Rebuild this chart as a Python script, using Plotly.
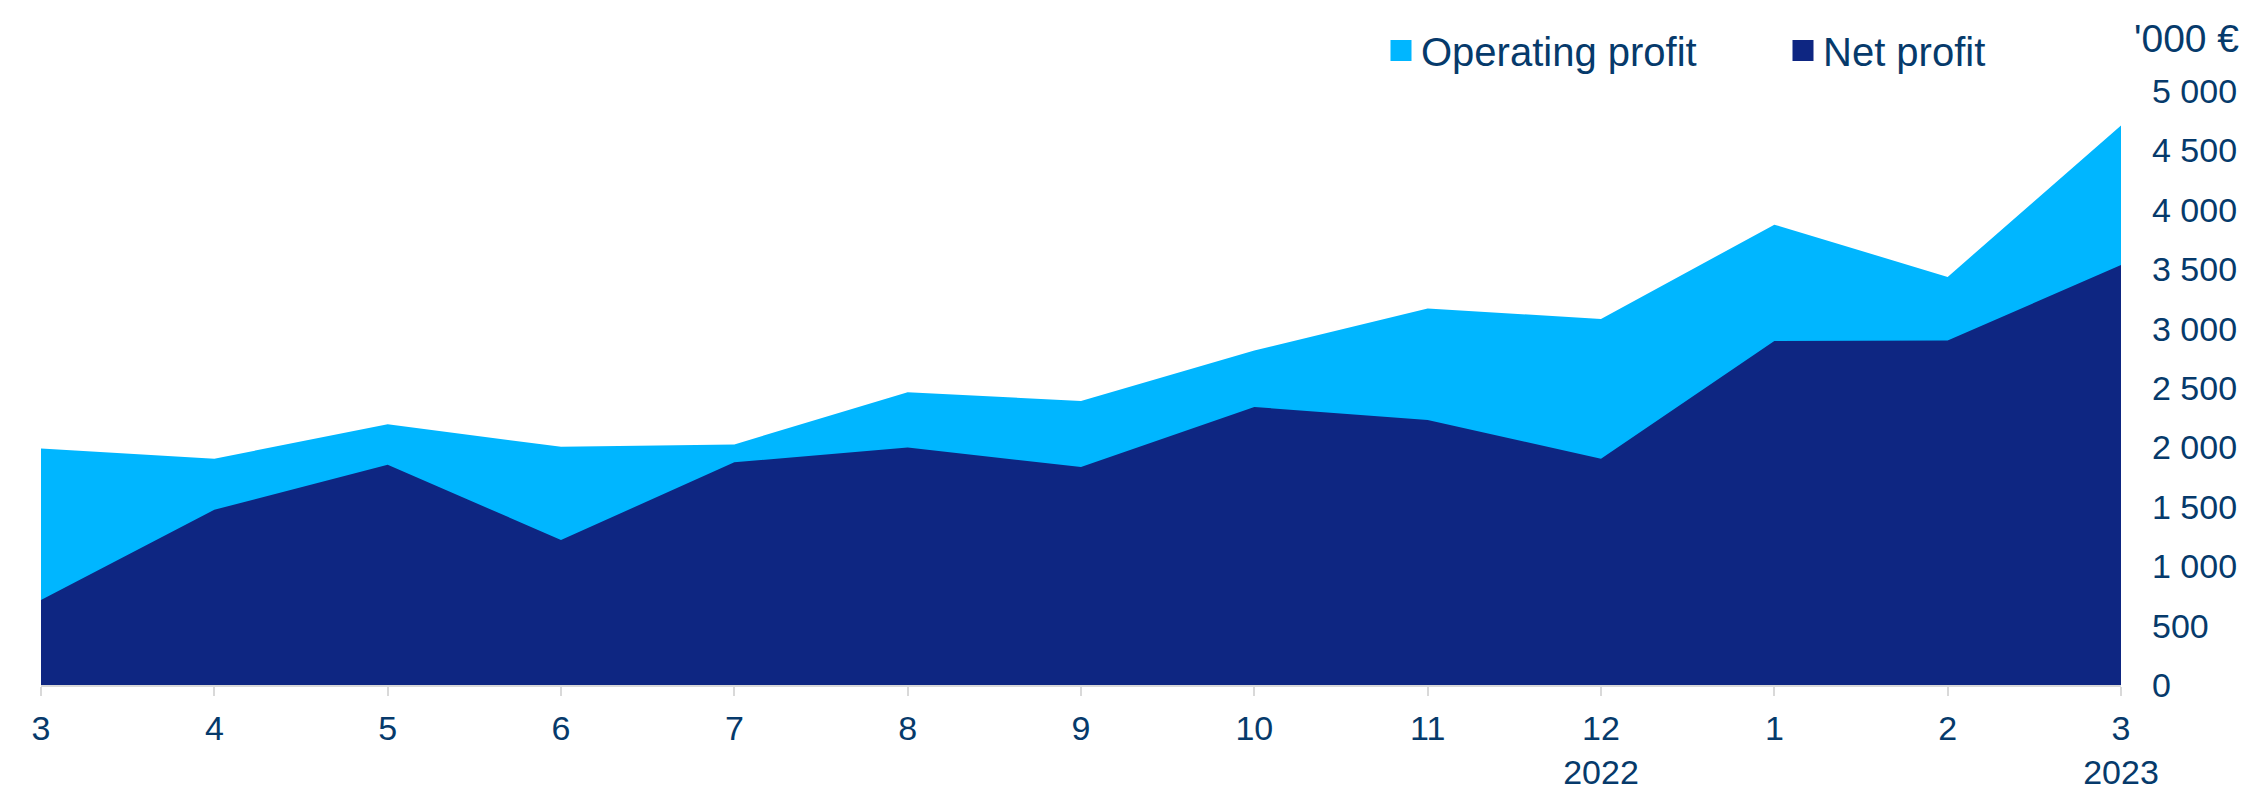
import plotly.graph_objects as go

# ---- data ----
month_labels = ["3", "4", "5", "6", "7", "8", "9", "10", "11", "12<br>2022", "1", "2", "3<br>2023"]
operating_profit = [1990, 1905, 2195, 2005, 2025, 2465, 2390, 2815, 3170, 3080, 3875, 3435, 4710]
net_profit = [715, 1475, 1855, 1220, 1875, 2000, 1835, 2340, 2230, 1905, 2895, 2900, 3535]
y_ticks = [0, 500, 1000, 1500, 2000, 2500, 3000, 3500, 4000, 4500, 5000]
unit_label = "'000 €"

LIGHT = "#00B6FF"
NAVY = "#0E2682"
TEXT = "#063A6B"
FONT = "Liberation Sans, Arial, sans-serif"

x = list(range(len(month_labels)))

fig = go.Figure()
fig.add_trace(go.Scatter(x=x, y=operating_profit, mode="none", fill="tozeroy",
                         fillcolor=LIGHT, name="Operating profit", showlegend=False,
                         hoverinfo="y"))
fig.add_trace(go.Scatter(x=x, y=net_profit, mode="none", fill="tozeroy",
                         fillcolor=NAVY, name="Net profit", showlegend=False,
                         hoverinfo="y"))
# legend entries (square swatches)
fig.add_trace(go.Scatter(x=[None], y=[None], mode="markers", name="Operating profit",
                         marker=dict(symbol="square", size=16, color=LIGHT,
                                     line=dict(width=5, color=LIGHT)), legend="legend"))
fig.add_trace(go.Scatter(x=[None], y=[None], mode="markers", name="Net profit",
                         marker=dict(symbol="square", size=16, color=NAVY,
                                     line=dict(width=5, color=NAVY)), legend="legend2"))

W, H = 2255, 789
ml, mr, mt, mb = 41, 134, 90.5, 104
pw = W - ml - mr
ph = H - mt - mb

def px_x(px):
    return (px - ml) / pw

def px_y(py):
    return (H - mb - py) / ph

legend_common = dict(orientation="h", font=dict(family=FONT, size=40, color=TEXT),
                     bgcolor="rgba(0,0,0,0)", itemwidth=30, yanchor="middle",
                     xanchor="left", tracegroupgap=0)

fig.update_layout(
    width=W, height=H,
    margin=dict(l=ml, r=mr, t=mt, b=mb, autoexpand=False),
    paper_bgcolor="white", plot_bgcolor="white",
    font=dict(family=FONT, color=TEXT, size=34),
    separators=". ",
    showlegend=True,
    legend=dict(x=px_x(1381), y=px_y(50), **legend_common),
    legend2=dict(x=px_x(1783), y=px_y(50), **legend_common),
    xaxis=dict(
        range=[0, len(month_labels) - 1],
        tickmode="array", tickvals=x, ticktext=month_labels,
        showgrid=False, zeroline=False,
        showline=True, linecolor="#D9D9D9", linewidth=2,
        ticks="outside", ticklen=9, tickwidth=2, tickcolor="#D9D9D9",
        tickfont=dict(family=FONT, size=34, color=TEXT),
        ticklabelstandoff=3,
    ),
    yaxis=dict(
        side="right", range=[0, 5000],
        tickmode="array", tickvals=y_ticks, tickformat=",d",
        showgrid=False, zeroline=False, showline=False,
        ticks="", tickfont=dict(family=FONT, size=34, color=TEXT),
        ticklabelstandoff=30,
    ),
    annotations=[dict(
        text=unit_label, xref="paper", yref="paper",
        x=1, xshift=2132 - (W - mr), xanchor="left",
        y=px_y(38), yanchor="middle", showarrow=False,
        font=dict(family=FONT, size=39, color=TEXT),
    )],
)

fig.write_html("out.html",
               config={"displayModeBar": False},
               post_script="document.body.style.margin='0px';document.body.style.overflow='hidden';")
